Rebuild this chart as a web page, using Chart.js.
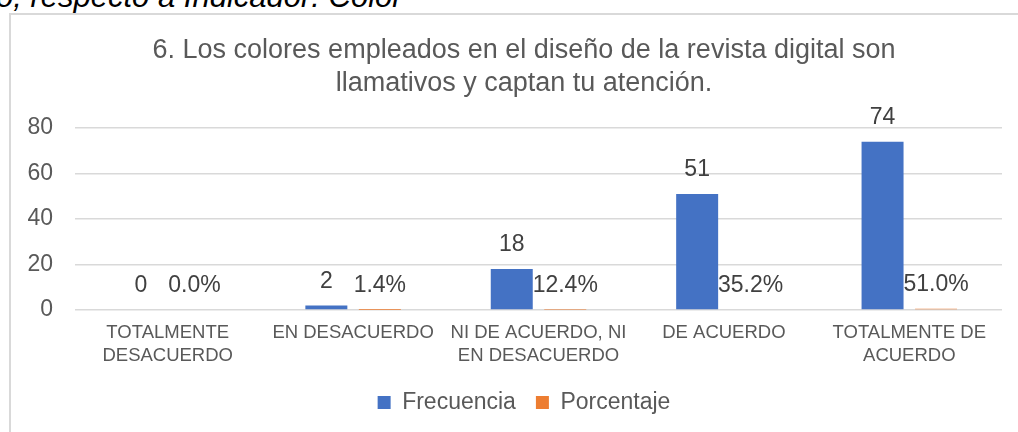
<!DOCTYPE html>
<html><head><meta charset="utf-8">
<script src="https://cdn.jsdelivr.net/npm/chart.js@4.4.1/dist/chart.umd.min.js"></script>
<style>
html,body{margin:0;padding:0;background:#fff;overflow:hidden;width:1018px;height:432px;}
#frame{position:absolute;left:9px;top:13px;width:1060px;height:460px;border:2px solid #d9d9d9;box-sizing:border-box;}
#cap{position:absolute;left:-4px;top:-19px;font:italic 31px/31px "Liberation Sans",Arial,sans-serif;color:#000;white-space:nowrap;}
#c{position:absolute;left:10px;top:14px;}
</style></head><body>
<div id="cap">o, respecto a Indicador: Color</div>
<div id="frame"></div>
<canvas id="c" width="1028" height="418"></canvas>
<script>
const categories = [["TOTALMENTE","DESACUERDO"],"EN DESACUERDO",["NI DE ACUERDO, NI","EN DESACUERDO"],"DE ACUERDO",["TOTALMENTE DE","ACUERDO"]];
const frecuencia = [0, 2, 18, 51, 74];
const porcentaje = [0.000, 0.014, 0.124, 0.352, 0.510];
const yTicks = [0, 20, 40, 60, 80];
const seriesNames = ["Frecuencia", "Porcentaje"];
const titleLines = ["6. Los colores empleados en el diseño de la revista digital son", "llamativos y captan tu atención."];

const FONT = '"Liberation Sans", Arial, sans-serif';
const GRAY = '#595959';

const valueLabels = {
  id: 'valueLabels',
  afterDatasetsDraw(chart) {
    const ctx = chart.ctx;
    ctx.save();
    ctx.font = '23px ' + FONT;
    ctx.fillStyle = '#404040';
    ctx.textAlign = 'center';
    ctx.textBaseline = 'middle';
    chart.data.datasets.forEach((ds, i) => {
      const meta = chart.getDatasetMeta(i);
      meta.data.forEach((bar, j) => {
        const v = ds.data[j];
        const txt = i === 0 ? String(v) : (v * 100).toFixed(1) + '%';
        ctx.fillText(txt, bar.x, bar.y - 24);
      });
    });
    ctx.restore();
  }
};

new Chart(document.getElementById('c'), {
  type: 'bar',
  data: {
    labels: categories,
    datasets: [
      { label: seriesNames[0], data: frecuencia, backgroundColor: '#4472C4', categoryPercentage: 0.577, barPercentage: 0.785 },
      { label: seriesNames[1], data: porcentaje, backgroundColor: '#ED7D31', categoryPercentage: 0.577, barPercentage: 0.785 }
    ]
  },
  options: {
    responsive: false,
    animation: false,
    devicePixelRatio: 1,
    layout: { padding: { left: 0, right: 0, top: 0, bottom: 8 } },
    plugins: {
      title: {
        display: true,
        text: titleLines,
        color: GRAY,
        font: { family: FONT, size: 27, weight: 'normal', lineHeight: '33px' },
        padding: { top: 20, bottom: 28 }
      },
      legend: {
        position: 'bottom',
        labels: { color: GRAY, font: { family: FONT, size: 23 }, boxWidth: 13, boxHeight: 13, padding: 20 }
      },
      tooltip: { enabled: false }
    },
    scales: {
      x: {
        grid: { display: false },
        border: { display: false },
        ticks: { color: GRAY, font: { family: FONT, size: 18.5, lineHeight: 1.22 }, padding: 4, maxRotation: 0, autoSkip: false },
        afterFit(s) { s.height = 61; }
      },
      y: {
        min: 0, max: 80,
        afterBuildTicks(s) { s.ticks = yTicks.map(v => ({ value: v })); },
        grid: { color: '#d9d9d9', lineWidth: 1.5, drawTicks: false },
        border: { display: false },
        ticks: { color: GRAY, font: { family: FONT, size: 23 }, padding: 22 },
        afterFit(s) { s.width = 65; }
      },
      yR: {
        position: 'right', display: true,
        grid: { display: false }, border: { display: false },
        ticks: { display: false },
        afterFit(s) { s.width = 36; }
      }
    }
  },
  plugins: [valueLabels]
});
</script>
</body></html>
